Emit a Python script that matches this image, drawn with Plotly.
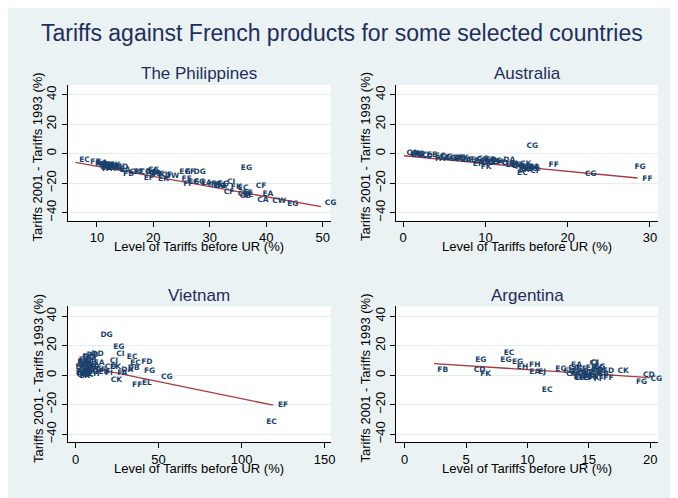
import plotly.graph_objects as go

# ---------------- data ----------------
phil_x = [7.8, 9.75, 10.6, 11.5, 11.8, 12.4, 13.0, 13.9, 14.5, 15.0, 15.6, 16.8, 17.4, 18.6, 19.2, 19.7,
          20.3, 20.9, 21.8, 22.4, 23.3, 25.6, 26.5, 28.2, 25.9, 26.2, 27.1, 28.2, 29.4, 30.6, 31.8, 32.4,
          33.8, 33.4, 34.7, 35.9, 36.5, 36.3, 39.1, 40.3, 39.4, 42.3, 44.7, 51.4, 12.0, 13.5, 20.0, 36.8,
          10.9, 11.2, 12.0, 12.7, 13.2, 11.6, 20.0, 20.6, 36.0, 36.7, 31.2, 32.0]
phil_y = [-4.1, -5.9, -7.0, -8.1, -10.4, -8.6, -10.0, -10.4, -9.3, -11.5, -13.8, -12.7, -12.2, -12.7, -16.7, -12.2,
          -13.1, -13.8, -17.2, -14.9, -15.4, -12.7, -12.2, -12.2, -17.2, -20.5, -19.0, -19.0, -20.1, -21.2, -21.7, -20.5,
          -19.5, -25.8, -22.8, -23.5, -10.0, -28.5, -22.2, -27.3, -31.2, -32.5, -34.1, -33.7, -7.5, -9.0, -11.5, -28.0,
          -6.5, -7.8, -8.5, -9.2, -8.0, -9.5, -12.8, -14.0, -27.5, -27.0, -21.0, -22.0]
phil_lab = ["EC", "FF", "FC", "EG", "FA", "CG", "EC", "FG", "CD", "EA", "FB", "CK", "EF", "CG", "EF", "DG",
            "CA", "FK", "EK", "CF", "DW", "EG", "EF", "DG", "FE", "FF", "CG", "FG", "EA", "CF", "DG", "EG",
            "CI", "CF", "FK", "EC", "EG", "CB", "CF", "EA", "CA", "CW", "EG", "CG", "FH", "EB", "CC", "EE",
            "EA", "FG", "CB", "FD", "EK", "CA", "EG", "FB", "CD", "EF", "FC", "DA"]

aus_x = [1.1, 1.7, 2.3, 2.9, 4.5, 4.5, 5.3, 6.3, 7.3, 7.9, 8.9, 9.1, 9.7, 10.1, 10.5, 10.9, 11.3, 12.1,
         12.9, 13.1, 13.7, 14.3, 14.5, 14.9, 15.3, 15.9, 16.1, 15.7, 18.3, 22.8, 28.8, 29.7, 3.5, 6.8, 10.3, 15.0,
         1.5, 2.0, 5.0, 5.8, 7.0, 7.6, 9.3, 10.0, 10.7, 11.5, 13.5, 14.0, 15.0, 15.6, 16.0, 14.7]
aus_y = [0.2, -0.7, -0.7, -1.4, -1.4, -3.6, -2.5, -3.6, -2.9, -4.3, -4.7, -7.0, -3.6, -8.8, -4.7, -5.9, -5.2, -6.6,
         -4.7, -7.5, -8.1, -9.3, -13.4, -7.0, -9.7, -8.8, -12.0, 5.4, -8.1, -14.2, -9.3, -17.2, -1.0, -3.0, -6.5, -10.5,
         -0.2, -0.5, -2.8, -3.2, -3.8, -4.2, -5.0, -5.5, -4.2, -5.8, -7.0, -8.5, -9.0, -10.2, -9.5, -11.5]
aus_lab = ["CA", "EG", "FC", "CD", "EC", "FA", "CG", "EB", "FK", "CF", "EG", "EF", "CG", "FK", "EA", "CB", "EG", "FD",
           "DA", "EF", "CG", "FB", "EC", "CK", "FG", "EA", "CF", "CG", "FF", "CG", "FG", "FF", "EE", "CC", "DG", "EK",
           "EA", "FB", "CK", "EG", "FD", "CA", "EC", "FG", "CB", "EH", "FA", "DG", "EB", "CC", "FF", "EK"]

viet_x = [18.7, 26.1, 27.1, 34.1, 36.1, 43.0, 44.6, 55.0, 31.1, 35.1, 24.7, 43.0, 37.1, 23.1,
          5.2, 7.2, 10.2, 13.2, 6.2, 5.2, 4.2, 7.2, 10.2, 14.2, 15.1, 17.1, 20.1, 21.1, 24.1, 28.1,
          3.2, 4.2, 9.2, 12.2, 3.2, 8.2, 125.0, 118.0, 6.0, 11.0,
          4.5, 5.5, 6.5, 7.5, 8.5, 5.0, 6.0, 9.5, 11.5, 4.0, 5.5, 8.0]
viet_y = [27.1, 18.8, 14.0, 12.4, 7.9, 9.0, 2.9, -1.6, 3.4, 4.5, -3.4, -5.2, -6.8, 9.7,
          10.1, 12.0, 13.5, 14.2, 6.8, 3.4, 1.1, 0.0, 2.2, 7.9, 3.4, 2.2, 1.1, 5.6, 5.6, 1.1,
          5.6, 9.0, 5.6, 3.9, 1.1, 9.0, -20.3, -32.1, 8.0, 0.5,
          3.0, 4.5, 2.0, 6.0, 3.0, 7.5, 1.0, 10.5, 6.5, 0.0, -0.5, 12.5]
viet_lab = ["DG", "EG", "CI", "EC", "EC", "FD", "FG", "CG", "DA", "DB", "CK", "EL", "FF", "CJ",
            "EA", "EC", "DB", "DD", "FG", "CA", "EG", "FK", "CG", "EA", "CF", "EB", "FI", "CD", "EK", "FA",
            "EC", "FF", "CB", "DG", "EE", "CC", "EF", "EC", "FH", "EH",
            "CA", "EG", "FB", "CK", "EA", "FD", "CG", "EB", "FA", "CC", "EK", "DD"]

arg_x = [3.1, 6.2, 6.1, 6.6, 8.5, 8.25, 9.2, 9.6, 10.6, 10.6, 11.2, 11.6, 12.7, 13.4, 13.8, 14.0, 14.4,
         14.2, 14.8, 15.2, 15.5, 15.6, 15.4, 16.0, 16.6, 16.6, 14.6, 17.8, 19.3, 19.9, 20.5, 15.0, 15.8, 13.9,
         14.1, 14.5, 15.0, 15.3, 15.7, 15.9, 15.4, 14.9, 16.2, 13.6, 14.3, 15.8]
arg_y = [3.4, 10.1, 3.4, 0.5, 14.7, 10.1, 9.0, 5.6, 6.8, 2.2, 1.8, -10.1, 4.1, 2.7, 4.9, 6.8, 4.1,
         -1.1, 1.1, 4.5, 7.9, 1.1, -2.2, 2.7, 2.7, -2.2, -2.2, 2.7, -5.0, 0.0, -2.7, 0.0, 5.0, 1.0,
         3.0, 0.5, 2.0, -1.0, 3.5, 5.5, 8.5, -0.5, 0.5, 1.0, -2.0, -2.5]
arg_lab = ["FB", "EG", "CD", "FK", "EC", "EG", "EG", "EH", "FH", "EA", "EJ", "EC", "EC", "FD", "CG", "EA", "CF",
           "EK", "FG", "EB", "CI", "DA", "FX", "EG", "FD", "FF", "EE", "CK", "FG", "CD", "CG", "EL", "CC", "FA",
           "EA", "CB", "FG", "EK", "CD", "EG", "CI", "FA", "EB", "CC", "EH", "FF"]

# fitted lines (end points)
phil_fit_x, phil_fit_y = [6.2, 49.7], [-5.9, -35.9]
aus_fit_x, aus_fit_y = [0.1, 28.5], [-1.4, -16.5]
viet_fit_x, viet_fit_y = [0.2, 119.0], [7.2, -20.3]
arg_fit_x, arg_fit_y = [2.4, 20.0], [7.9, -1.6]

titles = ["The Philippines", "Australia", "Vietnam", "Argentina"]
x_ticks = [[10, 20, 30, 40, 50], [0, 10, 20, 30], [0, 50, 100, 150], [0, 5, 10, 15, 20]]
y_ticks = [-40, -20, 0, 20, 40]
main_title = "Tariffs against French products for some selected countries"
x_title = "Level of Tariffs before UR (%)"
y_title = "Tariffs 2001 - Tariffs 1993 (%)"

# ---------------- figure ----------------
W, H = 678, 498
OFF = 8  # the page body adds an 8px white margin at left/top
LAB_COLOR = "#1a3f6a"
FIT_COLOR = "#a8393e"
TITLE_COLOR = "#222e5c"

panels = [
    (phil_x, phil_y, phil_lab, phil_fit_x, phil_fit_y, [4.8, 51.4]),
    (aus_x, aus_y, aus_lab, aus_fit_x, aus_fit_y, [-0.85, 31.0]),
    (viet_x, viet_y, viet_lab, viet_fit_x, viet_fit_y, [-4.8, 153.6]),
    (arg_x, arg_y, arg_lab, arg_fit_x, arg_fit_y, [-0.7, 20.65]),
]

# pixel geometry of the plot regions in the screenshot: (left, right, top, bottom)
geom = [(68, 333, 85, 221), (399, 663, 85, 221), (68, 333, 307, 443), (399, 663, 307, 443)]
ytitle_gap = [30, 31, 30, 31]

fig = go.Figure()
layout = dict(
    width=W, height=H,
    margin=dict(l=0, r=0, t=0, b=0),
    paper_bgcolor="#eaf2f3",
    plot_bgcolor="white",
    showlegend=False,
    font=dict(family="Liberation Sans, Arial, sans-serif", color="black", size=12),
    annotations=[], shapes=[],
)

def px2x(p):
    return (p - OFF) / W

def px2y(p):
    return 1 - (p - OFF) / H

for i, (xs, ys, labs, fx, fy, xr) in enumerate(panels):
    n = "" if i == 0 else str(i + 1)
    xa, ya = "x" + n, "y" + n
    fig.add_trace(go.Scatter(x=fx, y=fy, mode="lines", xaxis=xa, yaxis=ya,
                             line=dict(color=FIT_COLOR, width=1.4), hoverinfo="skip"))
    fig.add_trace(go.Scatter(x=xs, y=ys, mode="text", text=labs, xaxis=xa, yaxis=ya,
                             textposition="middle center", cliponaxis=False,
                             textfont=dict(size=7.5, color=LAB_COLOR, family="DejaVu Sans", weight="bold")))
    l, r, t, b = geom[i]
    layout["xaxis" + n] = dict(
        domain=[px2x(l), px2x(r)], anchor=ya, range=xr,
        tickvals=x_ticks[i], showgrid=False, zeroline=False,
        showline=True, linecolor="black", linewidth=1,
        ticks="outside", ticklen=5, tickcolor="black",
        tickfont=dict(size=13), fixedrange=True,
    )
    layout["yaxis" + n] = dict(
        domain=[px2y(b), px2y(t)], anchor=xa, range=[-45.4, 46.7],
        tickvals=y_ticks, tickangle=-90, showgrid=True, gridcolor="#e4eef0", gridwidth=1,
        zeroline=False, showline=True, linecolor="black", linewidth=1,
        ticks="outside", ticklen=5, tickcolor="black",
        tickfont=dict(size=13), fixedrange=True,
    )
    cx = (l + r) / 2
    # panel title
    layout["annotations"].append(dict(
        text=titles[i], x=px2x(cx), y=px2y(t - 11), xref="paper", yref="paper",
        xanchor="center", yanchor="middle", showarrow=False,
        font=dict(size=17, color=TITLE_COLOR)))
    # x axis title
    layout["annotations"].append(dict(
        text=x_title, x=px2x(cx), y=px2y(b + 26), xref="paper", yref="paper",
        xanchor="center", yanchor="middle", showarrow=False,
        font=dict(size=13, color="black")))
    # y axis title
    layout["annotations"].append(dict(
        text=y_title, x=px2x(l - ytitle_gap[i]), y=px2y((t + b) / 2 + 4), xref="paper", yref="paper",
        xanchor="center", yanchor="middle", showarrow=False, textangle=-90,
        font=dict(size=13, color="black")))

# main title
layout["annotations"].append(dict(
    text=main_title, x=px2x(344), y=px2y(33), xref="paper", yref="paper",
    xanchor="center", yanchor="middle", showarrow=False,
    font=dict(size=23, color=TITLE_COLOR)))

fig.update_layout(**layout)
fig.write_html("out.html")
